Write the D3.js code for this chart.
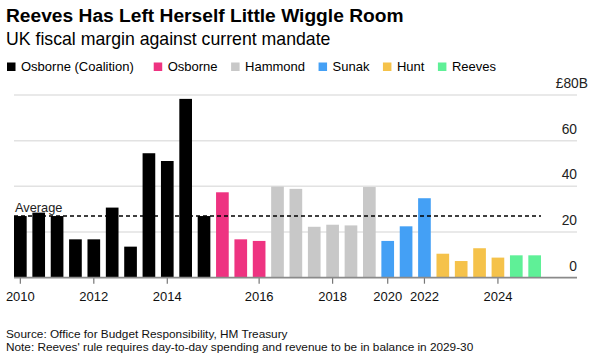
<!DOCTYPE html>
<html>
<head>
<meta charset="utf-8">
<script src="https://cdn.jsdelivr.net/npm/d3@7"></script>
<style>
  body { margin: 0; background: #fff; }
  svg { font-family: "Liberation Sans", Arial, sans-serif; display: block; }
</style>
</head>
<body>
<div id="chart-area"></div>
<script>
// fiscal events, one bar each
const events = [
  "Jun 2010", "Nov 2010", "Mar 2011", "Nov 2011", "Mar 2012", "Dec 2012", "Mar 2013",
  "Dec 2013", "Mar 2014", "Dec 2014", "Mar 2015",
  "Jul 2015", "Nov 2015", "Mar 2016",
  "Nov 2016", "Mar 2017", "Nov 2017", "Mar 2018", "Oct 2018", "Mar 2019",
  "Mar 2020", "Oct 2021", "Mar 2022",
  "Nov 2022", "Mar 2023", "Nov 2023", "Mar 2024",
  "Oct 2024", "Mar 2025"
];
const margins = [
  27, 28.5, 27, 16.8, 16.8, 30.7, 13.6, 54.5, 51.1, 78.3, 27,
  37.4, 16.8, 16.1,
  39.9, 38.9, 22.3, 23.2, 22.9, 39.7,
  16.1, 22.5, 34.8,
  10.5, 7.3, 12.9, 8.8,
  9.8, 9.8
];
const chancellorOf = [
  "Osborne (Coalition)", "Osborne (Coalition)", "Osborne (Coalition)", "Osborne (Coalition)",
  "Osborne (Coalition)", "Osborne (Coalition)", "Osborne (Coalition)", "Osborne (Coalition)",
  "Osborne (Coalition)", "Osborne (Coalition)", "Osborne (Coalition)",
  "Osborne", "Osborne", "Osborne",
  "Hammond", "Hammond", "Hammond", "Hammond", "Hammond", "Hammond",
  "Sunak", "Sunak", "Sunak",
  "Hunt", "Hunt", "Hunt", "Hunt",
  "Reeves", "Reeves"
];
const chancellors = ["Osborne (Coalition)", "Osborne", "Hammond", "Sunak", "Hunt", "Reeves"];
const colours = ["#000000", "#ee3381", "#c8c8c8", "#44a0f5", "#f5c24a", "#5ff097"];
const tickEvents = ["Jun 2010", "Mar 2012", "Mar 2014", "Mar 2016", "Mar 2018", "Mar 2020", "Mar 2022", "Mar 2024"];
const yTicks = [0, 20, 40, 60, 80];
const average = 27;

const chartSize = { width: 598, height: 362 };
const plot = { left: 14, right: 577, barsRight: 541, top: 95, bottom: 277.7 };

const svg = d3.select("#chart-area")
  .append("svg")
  .attr("width", chartSize.width)
  .attr("height", chartSize.height);

svg.append("rect").attr("width", chartSize.width).attr("height", chartSize.height).attr("fill", "#fff");

// headline
svg.append("text")
  .attr("x", 6).attr("y", 22)
  .attr("font-size", 19.2).attr("font-weight", "bold").attr("fill", "#000")
  .text("Reeves Has Left Herself Little Wiggle Room");

svg.append("text")
  .attr("x", 6).attr("y", 44.5)
  .attr("font-size", 17.7).attr("fill", "#000")
  .text("UK fiscal margin against current mandate");

// legend
const c = d3.scaleOrdinal().domain(chancellors).range(colours);
let lx = 7;
chancellors.forEach((name, i) => {
  const g = svg.append("g").attr("transform", `translate(${lx}, 0)`);
  g.append("rect").attr("x", 0).attr("y", 62.5).attr("width", 8.5).attr("height", 8.5).attr("fill", c(name));
  const t = g.append("text").attr("x", 14).attr("y", 71).attr("font-size", 13).attr("fill", "#000").text(name);
  lx += 14 + t.node().getComputedTextLength() + (i === 0 ? 20 : 13.5);
});

const x = d3.scaleBand()
  .domain(events)
  .range([plot.left, plot.barsRight])
  .paddingInner(0.31)
  .paddingOuter(0);

const y = d3.scaleLinear().domain([0, 80]).range([plot.bottom, plot.top]);

// gridlines and right-hand labels
const grid = svg.append("g").attr("class", "grid");
grid.selectAll("line")
  .data(yTicks.filter(d => d > 0))
  .join("line")
  .attr("x1", plot.left).attr("x2", plot.right)
  .attr("y1", d => y(d)).attr("y2", d => y(d))
  .attr("stroke", "#e2e2e2").attr("stroke-width", 1.5);

grid.selectAll("text")
  .data(yTicks)
  .join("text")
  .attr("x", d => d === 80 ? 588 : plot.right)
  .attr("y", d => y(d) - 7)
  .attr("text-anchor", "end")
  .attr("font-size", 13.8)
  .attr("fill", "#222")
  .text(d => d === 80 ? "£80B" : d);

// bars
svg.append("g").attr("class", "bars")
  .selectAll("rect")
  .data(events)
  .join("rect")
  .attr("x", d => x(d))
  .attr("width", x.bandwidth())
  .attr("y", (d, i) => y(margins[i]))
  .attr("height", (d, i) => y(0) - y(margins[i]))
  .attr("fill", (d, i) => c(chancellorOf[i]));

// average line
svg.append("line")
  .attr("x1", plot.left).attr("x2", x(events[events.length - 1]) + x.bandwidth())
  .attr("y1", y(average)).attr("y2", y(average))
  .attr("stroke", "#000").attr("stroke-width", 1.4)
  .attr("stroke-dasharray", "4,3");

svg.append("text")
  .attr("x", plot.left + 1).attr("y", y(average) - 4.5)
  .attr("font-size", 12.8).attr("fill", "#222")
  .text("Average");

// x axis
const xAxis = d3.axisBottom(x)
  .tickValues(tickEvents)
  .tickFormat(d => d.slice(-4))
  .tickSize(6)
  .tickPadding(8);

const gx = svg.append("g")
  .attr("class", "x axis")
  .attr("transform", `translate(0, ${plot.bottom})`)
  .call(xAxis);
gx.select(".domain").remove();
gx.selectAll(".tick line").attr("stroke", "#777").attr("stroke-width", 1.2);
gx.selectAll(".tick text").attr("font-size", 13).attr("fill", "#111").attr("font-family", "Liberation Sans, Arial, sans-serif");

svg.append("line")
  .attr("x1", plot.left).attr("x2", plot.right)
  .attr("y1", plot.bottom).attr("y2", plot.bottom)
  .attr("stroke", "#8a8a8a").attr("stroke-width", 1.8);

// footer
svg.append("text")
  .attr("x", 6).attr("y", 337.7)
  .attr("font-size", 11.8).attr("fill", "#111")
  .text("Source: Office for Budget Responsibility, HM Treasury");
svg.append("text")
  .attr("x", 6).attr("y", 351.2)
  .attr("font-size", 11.8).attr("fill", "#111")
  .text("Note: Reeves' rule requires day-to-day spending and revenue to be in balance in 2029-30");
</script>
</body>
</html>
